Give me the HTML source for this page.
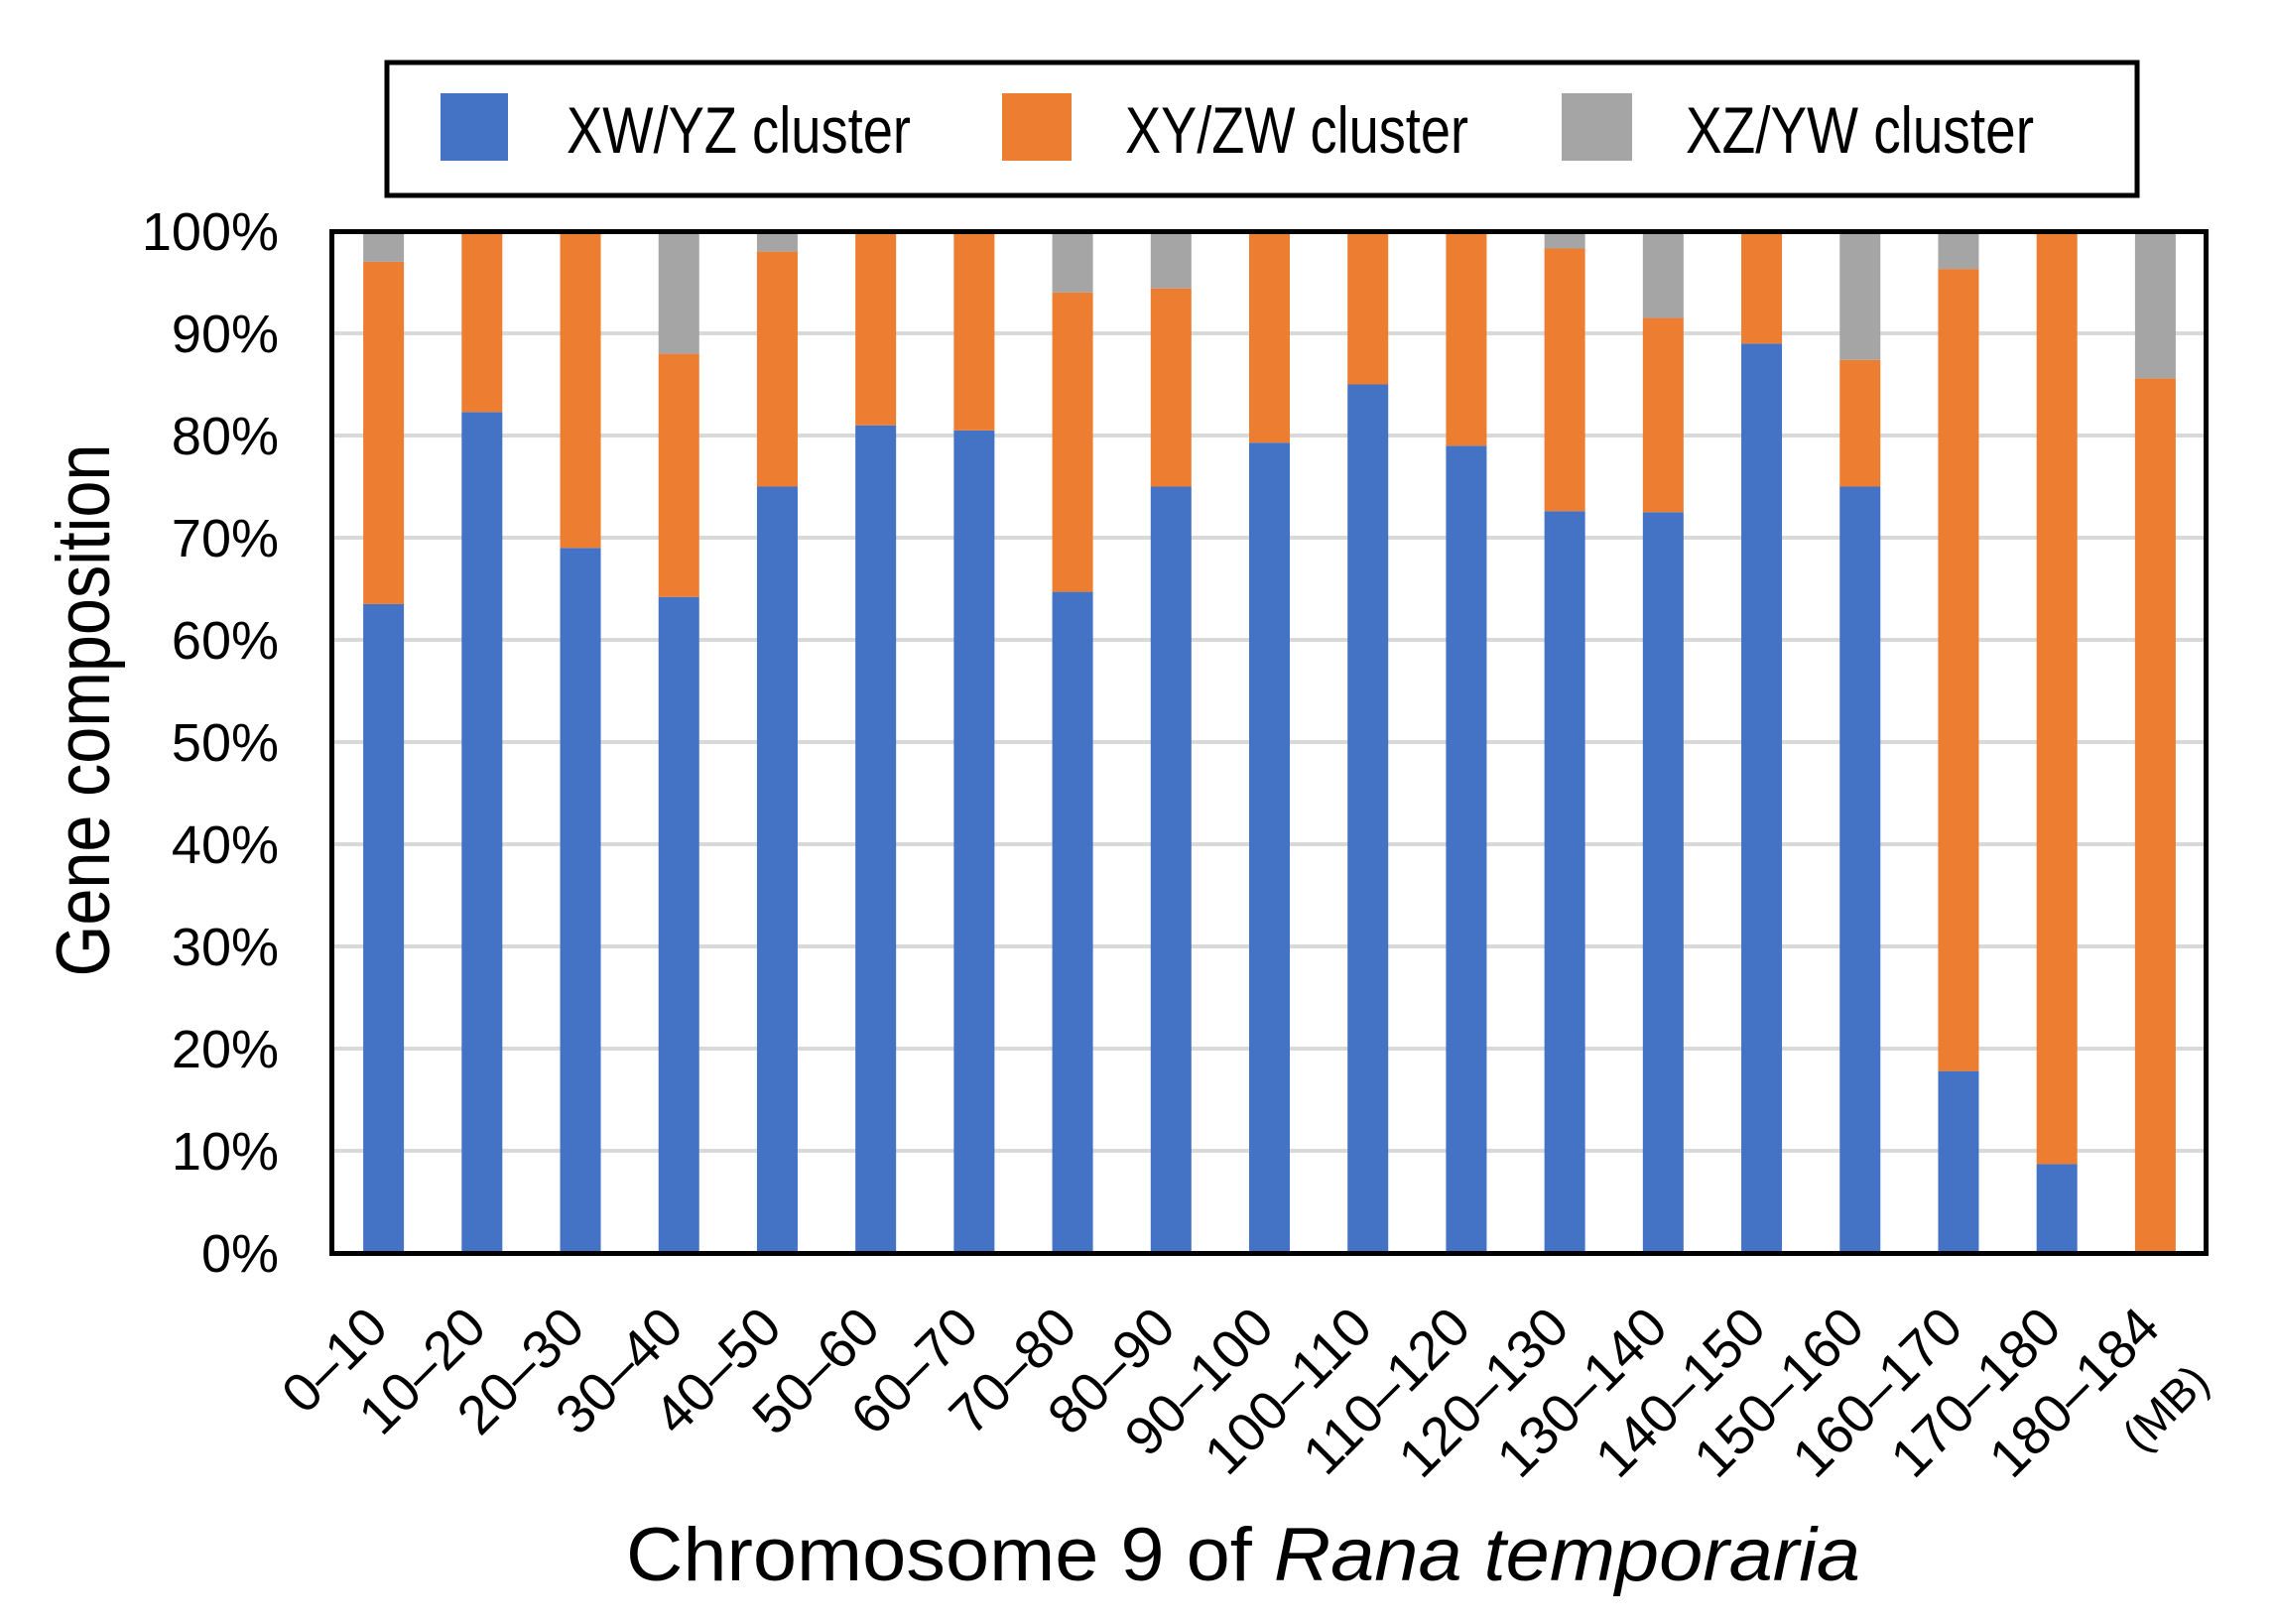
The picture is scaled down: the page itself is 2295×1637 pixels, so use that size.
<!DOCTYPE html>
<html><head><meta charset="utf-8"><style>html,body{margin:0;padding:0;background:#fff}svg{display:block}</style></head>
<body>
<svg id="chart" width="2295" height="1637" viewBox="0 0 2295 1637" xmlns="http://www.w3.org/2000/svg" font-family="Liberation Sans, Arial, sans-serif">
<g id="grid"></g>
<g id="bars"></g>
<rect x="334.5" y="233.5" width="1889" height="1030" fill="none" stroke="#000" stroke-width="5"/>
<g id="yticks" font-size="54" text-anchor="end"></g>
<g id="xticks" font-size="55" text-anchor="end"></g>
<text font-size="46" text-anchor="end" transform="translate(2229,1395) rotate(-45)">(MB)</text>
<text font-size="76" text-anchor="middle" textLength="537" lengthAdjust="spacingAndGlyphs" transform="translate(110,716) rotate(-90)">Gene composition</text>
<text font-size="76" text-anchor="middle" x="1253" y="1593" textLength="1244" lengthAdjust="spacingAndGlyphs">Chromosome 9 of <tspan font-style="italic">Rana temporaria</tspan></text>
<g>
<rect x="390" y="63" width="1764" height="134" fill="#fff" stroke="#000" stroke-width="5"/>
<rect x="444" y="94" width="68" height="68" fill="#4472C4"/>
<text x="571" y="154" font-size="66" textLength="347" lengthAdjust="spacingAndGlyphs">XW/YZ cluster</text>
<rect x="1010" y="94" width="70" height="68" fill="#ED7D31"/>
<text x="1134" y="154" font-size="66" textLength="346" lengthAdjust="spacingAndGlyphs">XY/ZW cluster</text>
<rect x="1574" y="94" width="71" height="68" fill="#A5A5A5"/>
<text x="1699" y="154" font-size="66" textLength="351" lengthAdjust="spacingAndGlyphs">XZ/YW cluster</text>
</g>
</svg>
<script>
const categories = ["0–10","10–20","20–30","30–40","40–50","50–60","60–70","70–80","80–90","90–100","100–110","110–120","120–130","130–140","140–150","150–160","160–170","170–180","180–184"];
const xwyz = [63.5,82.3,69,64.2,75,81,80.5,64.7,75,79.3,85,79,72.6,72.5,89,75,17.8,8.7,0];
const xyzw = [33.5,17.7,31,23.8,23,19,19.5,29.3,19.4,20.7,15,21,25.7,19,11,12.4,78.5,91.3,85.6];
const xzyw = [3,0,0,12,2,0,0,6,5.6,0,0,0,1.7,8.5,0,12.6,3.7,0,14.4];
const yTicks = [0,10,20,30,40,50,60,70,80,90,100];
const NS="http://www.w3.org/2000/svg";
const L=337,R=2222,T=233,B=1263;
const band=(R-L)/categories.length, bw=41;
const y=v=>B-(v/100)*(B-T);
const xc=i=>L+band*(i+0.5);
function mk(tag,attrs,parent){const e=document.createElementNS(NS,tag);for(const k in attrs)e.setAttribute(k,attrs[k]);parent.appendChild(e);return e;}
const grid=document.getElementById('grid'),bars=document.getElementById('bars'),yt=document.getElementById('yticks'),xt=document.getElementById('xticks');
yTicks.forEach(t=>{
  if(t>0&&t<100){const g=mk('line',{x1:L,x2:R,y1:y(t),y2:y(t),stroke:'#D9D9D9','stroke-width':4},grid);
  
  }
  const tx=mk('text',{x:281,y:y(t)+19},yt);tx.textContent=t+'%';
  
  
});
const series=[[xwyz,'#4472C4','xw-yz'],[xyzw,'#ED7D31','xy-zw'],[xzyw,'#A5A5A5','xz-yw']];
categories.forEach((c,i)=>{
  let base=0;
  series.forEach(([arr,col,nm])=>{
    const v=arr[i];
    if(v>0){const r=mk('rect',{x:xc(i)-bw/2,y:y(base+v),width:bw,height:y(base)-y(base+v),fill:col},bars);
    
    }
    base+=v;
  });
  const tx=mk('text',{transform:`translate(${xc(i)+7},1341) rotate(-45)`},xt);tx.textContent=c;
  
  
});
</script>
</body></html>
